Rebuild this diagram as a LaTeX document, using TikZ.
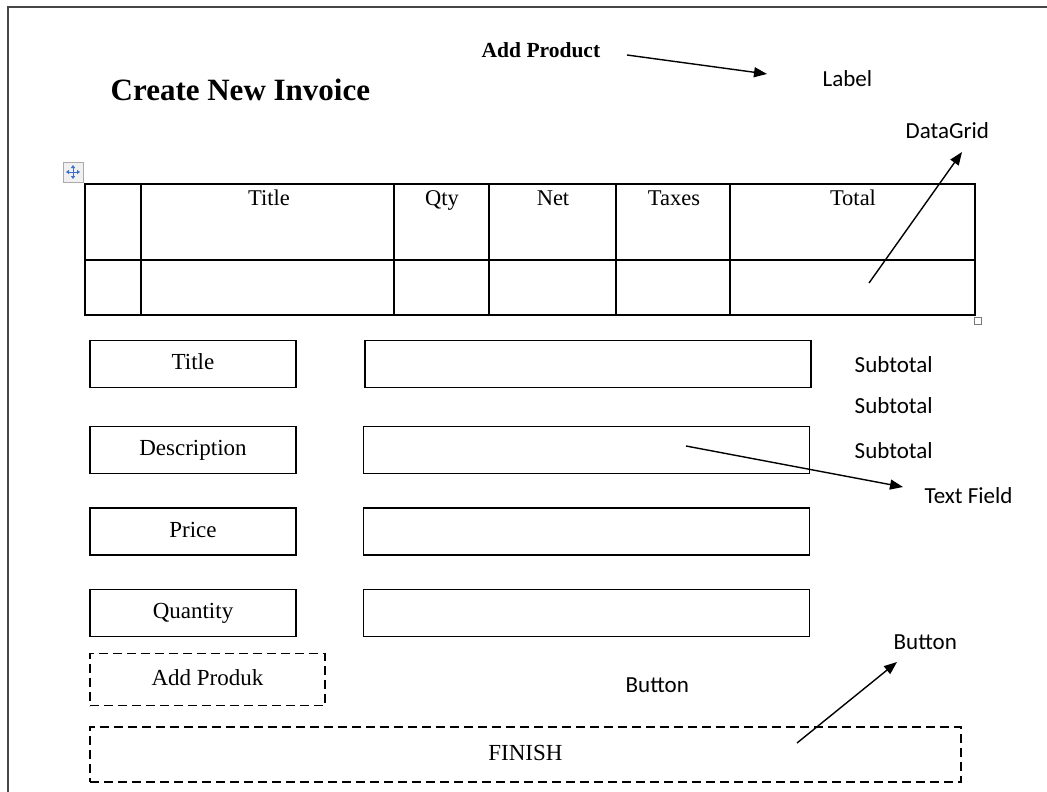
\documentclass[tikz,border=0pt]{standalone}
\usepackage{fontspec}
\setmainfont{Liberation Serif}
\newfontfamily\uifont{Carlito}
\usetikzlibrary{arrows.meta}

\tikzset{every picture/.style={line width=1.4pt}}
\tikzset{
  lblbox/.style={draw, minimum width=206, minimum height=47, inner sep=0pt,
    text height=15, text depth=4, font=\fontsize{23}{27}\selectfont},
  fieldbox/.style={draw, minimum width=446, minimum height=47, inner sep=0pt},
  btnbox/.style={draw, dash pattern={on 9pt off 5pt}, line width=1.5pt, inner sep=0pt,
    text height=15, text depth=4, font=\fontsize{23}{27}\selectfont},
  hdr/.style={anchor=base, inner sep=0pt, font=\fontsize{22.5}{26}\selectfont},
  note/.style={anchor=base west, inner sep=0pt, font=\uifont\fontsize{23}{27}\selectfont},
  pointer/.style={-{Triangle[length=13pt,width=10pt]}, line width=1.4pt}
}

\begin{document}
\begin{tikzpicture}[x=1pt,y=1pt,yscale=-1,xscale=1]
		\useasboundingbox (0,0) rectangle (1047,792);

		%Shape: Frame (page border)
		\draw [color={rgb, 255:red, 70; green, 70; blue, 70 }, line width=1.5]  (8,800) -- (8,7) -- (1055,7) ;

		% Text Node
		\node [anchor=base west, inner sep=0pt, font=\bfseries\fontsize{31}{36}\selectfont] (invTitle) at (110,100) {Create New Invoice};
		% Text Node
		\node [anchor=base west, inner sep=0pt, font=\bfseries\fontsize{21.5}{26}\selectfont] (addProduct) at (481,58) {Add Product};
		% Text Node
		\node [note] (lblLabel) at (822,86) {Label};
		% Text Node
		\node [note] (lblGrid) at (905,138) {DataGrid};

		%Shape: Table move handle
		\draw [color={rgb, 255:red, 170; green, 170; blue, 170 }, fill={rgb, 255:red, 240; green, 240; blue, 240 }, line width=0.8]  (63,162) rectangle (83,182) ;
		\draw [color={rgb, 255:red, 60; green, 110; blue, 200 }, line width=1, {Triangle[length=3pt,width=4pt]}-{Triangle[length=3pt,width=4pt]}]  (66,172) -- (80,172) ;
		\draw [color={rgb, 255:red, 60; green, 110; blue, 200 }, line width=1, {Triangle[length=3pt,width=4pt]}-{Triangle[length=3pt,width=4pt]}]  (73,165) -- (73,179) ;

		%Shape: DataGrid table
		\draw  (85,184) rectangle (975,315) ;
		\draw  (85,260) -- (975,260) ;
		\foreach \cx in {141,394,489,616,730} {
			\draw  (\cx,184) -- (\cx,315) ;
		}
		%Shape: Table resize handle
		\draw [color={rgb, 255:red, 120; green, 120; blue, 120 }, fill=white, line width=0.8]  (974,317) rectangle (981,324) ;

		% Text Node
		\node [hdr] (hTitle) at (269,205) {Title};
		% Text Node
		\node [hdr] (hQty) at (442,205) {Qty};
		% Text Node
		\node [hdr] (hNet) at (553,205) {Net};
		% Text Node
		\node [hdr] (hTaxes) at (674,205) {Taxes};
		% Text Node
		\node [hdr] (hTotal) at (853,205) {Total};

		%Shape: Form labels and text fields
		\node [lblbox] (bTitle) at (193,364) {Title};
		\node [lblbox] (bDesc) at (193,450) {Description};
		\node [lblbox] (bPrice) at (193,531.5) {Price};
		\node [lblbox] (bQty) at (193,613) {Quantity};
		\node [fieldbox] (tTitle) at (588,364) {};
		\node [fieldbox] (tDesc) at (586.5,450) {};
		\node [fieldbox] (tPrice) at (586.5,531.5) {};
		\node [fieldbox] (tQty) at (586.5,613) {};

		% Text Node
		\node [note] (sub1) at (854,372) {Subtotal};
		% Text Node
		\node [note] (sub2) at (854,413) {Subtotal};
		% Text Node
		\node [note] (sub3) at (854,458) {Subtotal};
		% Text Node
		\node [note] (lblField) at (924,503) {Text Field};

		%Shape: Buttons
		\node [btnbox, minimum width=235, minimum height=52] (bAdd) at (207.5,679.5) {Add Produk};
		\node [btnbox, minimum width=871, minimum height=55] (bFinish) at (525.5,754.5) {FINISH};

		% Text Node
		\node [note] (lblBtnA) at (893,649) {Button};
		% Text Node
		\node [note] (lblBtnB) at (625,692) {Button};

		%Straight Lines: pointers
		\coordinate (pA) at (627,55);
		\coordinate (qA) at (767,74);
		\coordinate (pB) at (869,283);
		\coordinate (qB) at (962,152);
		\coordinate (pC) at (686,446);
		\coordinate (qC) at (903,487);
		\coordinate (pD) at (797,743);
		\coordinate (qD) at (897,662);
		\draw [pointer]  (pA) -- (qA) ;
		\draw [pointer]  (pB) -- (qB) ;
		\draw [pointer]  (pC) -- (qC) ;
		\draw [pointer]  (pD) -- (qD) ;
	\end{tikzpicture}
\end{document}
